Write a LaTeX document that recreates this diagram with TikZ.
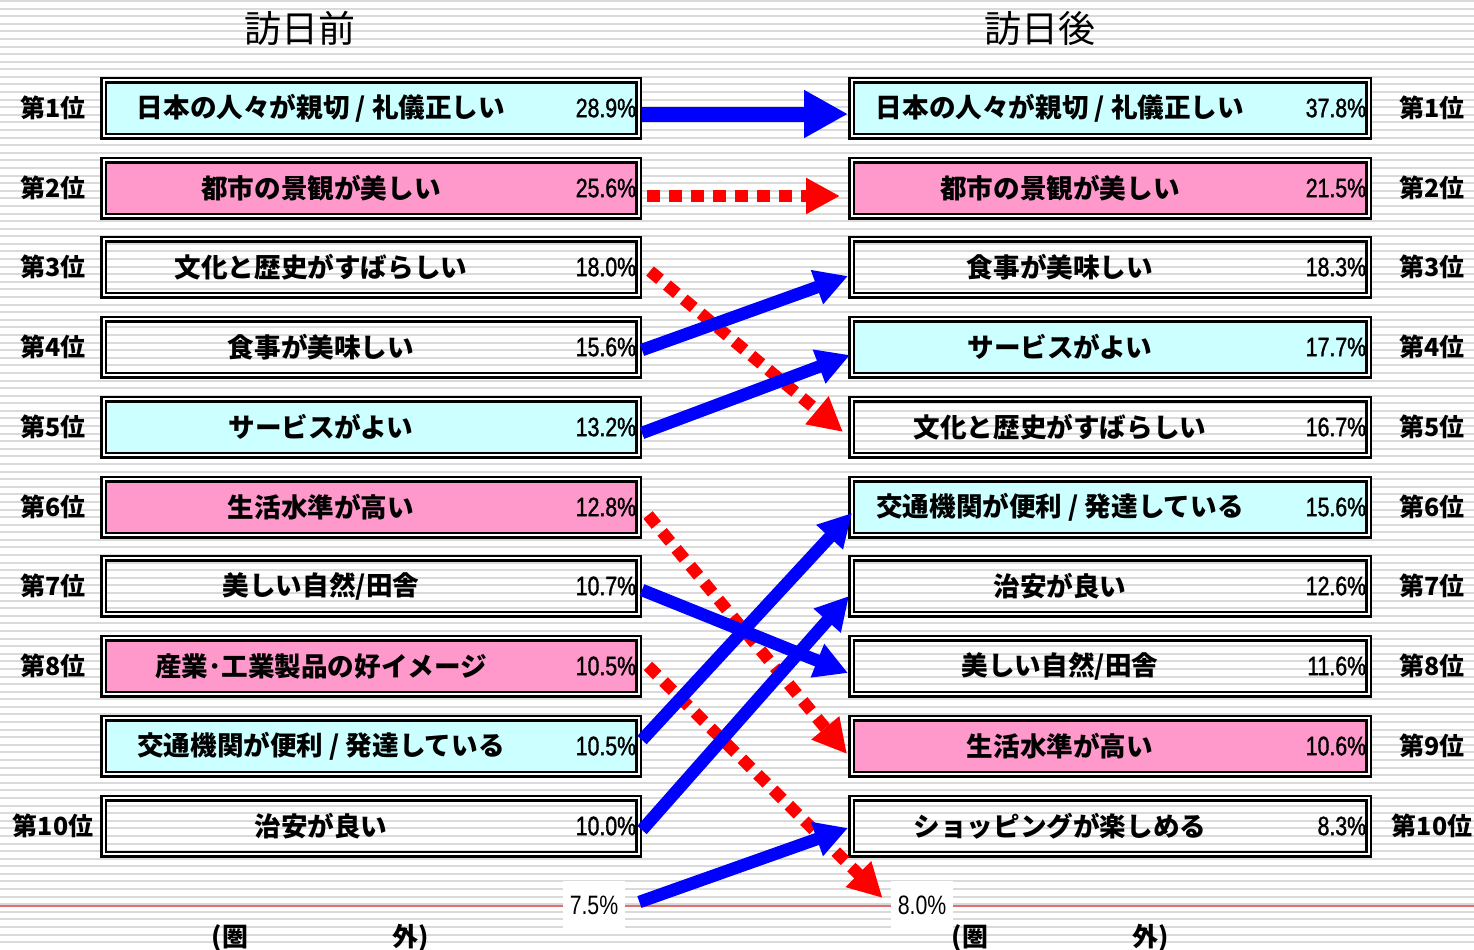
\documentclass[tikz,border=0pt]{standalone}
\usepackage{fontspec}
\setmainfont{Noto Sans CJK JP}
\newfontfamily\pctfont[FakeStretch=0.8,FakeBold=1.2]{Liberation Sans}
\newfontfamily\outfont[FakeStretch=0.8]{Liberation Sans}
\usetikzlibrary{calc,arrows.meta}
\definecolor{boxcyan}{RGB}{204,255,255}
\definecolor{boxpink}{RGB}{255,153,204}
\definecolor{stripegray}{RGB}{218,218,218}
\definecolor{outred}{RGB}{224,112,112}
\definecolor{arrowblue}{RGB}{0,0,255}
\definecolor{arrowred}{RGB}{255,0,0}
\tikzset{
	rankbox/.style={draw=black, double=white, double distance=1pt, line width=1.25pt, minimum height=28pt, outer sep=1.75pt, inner sep=0pt},
	leftbox/.style={rankbox, minimum width=267.5pt},
	rightbox/.style={rankbox, minimum width=258.5pt},
	cyanbox/.style={fill=boxcyan},
	pinkbox/.style={fill=boxpink},
	itemtext/.style={font=\fontsize{13.3}{15}\selectfont\bfseries, inner sep=0pt},
	pcttext/.style={font=\pctfont\fontsize{13.3}{15}\selectfont, inner sep=0pt, anchor=east},
	ranktext/.style={font=\fontsize{12.5}{15}\selectfont\bfseries, inner sep=0pt},
	titletext/.style={font=\fontsize{18.5}{20}\selectfont, inner sep=0pt},
	outtext/.style={font=\fontsize{13}{15}\selectfont\bfseries, inner sep=0pt},
	outpct/.style={font=\outfont\fontsize{13.3}{15}\selectfont, fill=white, minimum width=31pt, minimum height=24pt, inner sep=0pt},
	bigarrow/.style={draw=arrowblue, line width=7.5pt, -{Triangle[length=22pt,width=22.5pt]}},
	bluearrow/.style={draw=arrowblue, line width=6.25pt, -{Triangle[length=16.5pt,width=17pt]}},
	dotarrow/.style={draw=arrowred, line width=6pt, dash pattern=on 6.5pt off 4.5pt, -{Triangle[length=17pt,width=17pt]}}
}
% box with label and percentage
\def\itembox(#1)#2#3#4#5{%
	\node[#3] (#2) at (#1) {};
	\node[itemtext] (#2t) at ($(#2)+(-50,0)$) {#4};
	\node[pcttext] (#2p) at ($(#2.east)+(-5.5,0)$) {#5};
}

\begin{document}
\begin{tikzpicture}[x=0.5pt, y=-0.5pt]
	%%%%% BACKGROUND %%%%%
	\useasboundingbox (0,0) rectangle (1474,949);
	\fill[white] (0,0) rectangle (1474,949);
	\foreach \y in {1,8.59,...,949}
		\draw[stripegray, line width=1pt] (0,\y) -- (1474,\y);
	\draw[outred, line width=1pt] (0,906) -- (1474,906);
	
	\node[titletext] (pre) at (300,28) {訪日前};
	\node[titletext] (post) at (1040,28) {訪日後};
	
	%%%%% BEFORE %%%%%
	\itembox(371,108){l1}{leftbox,cyanbox}{日本の人々が親切 / 礼儀正しい}{28.9\%}
	\itembox(371,188){l2}{leftbox,pinkbox}{都市の景観が美しい}{25.6\%}
	\itembox(371,267){l3}{leftbox}{文化と歴史がすばらしい}{18.0\%}
	\itembox(371,347){l4}{leftbox}{食事が美味しい}{15.6\%}
	\itembox(371,427){l5}{leftbox,cyanbox}{サービスがよい}{13.2\%}
	\itembox(371,507){l6}{leftbox,pinkbox}{生活水準が高い}{12.8\%}
	\itembox(371,586){l7}{leftbox}{美しい自然/田舎}{10.7\%}
	\itembox(371,666){l8}{leftbox,pinkbox}{産業･工業製品の好イメージ}{10.5\%}
	\itembox(371,746){lx}{leftbox,cyanbox}{交通機関が便利 / 発達している}{10.5\%}
	\itembox(371,826){l10}{leftbox}{治安が良い}{10.0\%}
	\foreach \i/\y in {1/108,2/188,3/267,4/347,5/427,6/507,7/586,8/666,10/826}
		\node[ranktext] (lr\i) at (53,\y) {第\i{}位};
	
	%%%%% AFTER %%%%%
	\itembox(1110,108){r1}{rightbox,cyanbox}{日本の人々が親切 / 礼儀正しい}{37.8\%}
	\itembox(1110,188){r2}{rightbox,pinkbox}{都市の景観が美しい}{21.5\%}
	\itembox(1110,267){r3}{rightbox}{食事が美味しい}{18.3\%}
	\itembox(1110,347){r4}{rightbox,cyanbox}{サービスがよい}{17.7\%}
	\itembox(1110,427){r5}{rightbox}{文化と歴史がすばらしい}{16.7\%}
	\itembox(1110,507){r6}{rightbox,cyanbox}{交通機関が便利 / 発達している}{15.6\%}
	\itembox(1110,586){r7}{rightbox}{治安が良い}{12.6\%}
	\itembox(1110,666){r8}{rightbox}{美しい自然/田舎}{11.6\%}
	\itembox(1110,746){r9}{rightbox,pinkbox}{生活水準が高い}{10.6\%}
	\itembox(1110,826){r10}{rightbox}{ショッピングが楽しめる}{8.3\%}
	\foreach \i/\y in {1/108,2/188,3/267,4/347,5/427,6/507,7/586,8/666,9/746,10/826}
		\node[ranktext] (rr\i) at (1432,\y) {第\i{}位};
	
	%%%%% OUT OF RANK %%%%%
	\node[outpct] (p75) at (594,905) {7.5\%};
	\node[outpct] (p80) at (922,905) {8.0\%};
	\node[outtext] (lout) at (320,938) {(圏\hspace{72pt}外)};
	\node[outtext] (rout) at (1060,938) {(圏\hspace{72pt}外)};
	
	%%%%% ARROWS %%%%%
	\draw[bigarrow] ($(l1.east)+(0,6)$) -- ($(r1.west)+(0,6)$);
	\draw[dotarrow] ($(l2.east)+(5,8)$) -- ($(r2.west)+(-8,8)$);
	\draw[dotarrow] ($(l3.east)+(8,4)$) -- ($(r5.west)+(-5,5)$);
	\draw[bluearrow] ($(l4.east)+(0,3)$) -- ($(r3.west)+(0,9)$);
	\draw[bluearrow] ($(l5.east)+(0,6)$) -- ($(r4.west)+(2,8)$);
	\draw[dotarrow] ($(l6.east)+(6,8)$) -- ($(r9.west)+(-1,8)$);
	\draw[bluearrow] ($(l7.east)+(0,4)$) -- ($(r8.west)+(0,7)$);
	\draw[dotarrow] ($(l8.east)+(6,0)$) -- ($(p80.west)+(-8,-7)$);
	\draw[bluearrow] ($(lx.east)+(0,-6)$) -- ($(r6.west)+(4,6)$);
	\draw[bluearrow] ($(l10.east)+(0,4)$) -- ($(r7.west)+(1,10)$);
	\draw[bluearrow] ($(p75.east)+(14,-3)$) -- ($(r10.west)+(0,2)$);
\end{tikzpicture}
\end{document}
